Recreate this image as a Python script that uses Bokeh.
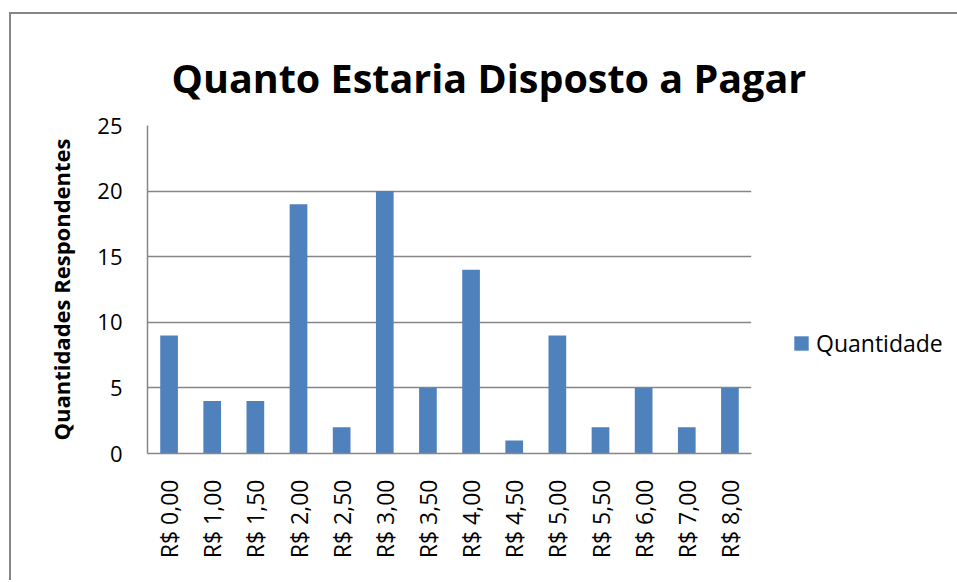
from bokeh.plotting import figure
from bokeh.models import FactorRange, Range1d, Legend, LegendItem, ColumnDataSource, FixedTicker
from bokeh.embed import file_html
from bokeh.resources import INLINE
import math

categories = ["R$ 0,00", "R$ 1,00", "R$ 1,50", "R$ 2,00", "R$ 2,50", "R$ 3,00", "R$ 3,50",
              "R$ 4,00", "R$ 4,50", "R$ 5,00", "R$ 5,50", "R$ 6,00", "R$ 7,00", "R$ 8,00"]
quantidade = [9, 4, 4, 19, 2, 20, 5, 14, 1, 9, 2, 5, 2, 5]
y_ticks = [0, 5, 10, 15, 20, 25]
title_text = "Quanto Estaria Disposto a Pagar"
y_label = "Quantidades Respondentes"
series_name = "Quantidade"

FONT = "Open Sans"
GRID = "#868686"
BAR = "#4F81BD"

p = figure(x_range=FactorRange(*categories), y_range=Range1d(0, 25),
           frame_width=604, frame_height=328,
           min_border_left=136, min_border_top=111, min_border_right=206, min_border_bottom=127,
           output_backend="svg", toolbar_location=None)
p.styles = {"border-left": "2px solid #868686", "border-top": "2px solid #868686",
            "margin-left": "9px", "margin-top": "12px"}

src = ColumnDataSource(dict(x=categories, top=quantidade))
r = p.vbar(x="x", top="top", width=0.41, source=src, fill_color=BAR, line_color=None)

p.title.text = title_text
p.title.text_font = FONT
p.title.text_font_style = "bold"
p.title.text_font_size = "39.5px"
p.title.text_color = "black"
p.title.align = "left"
p.title.vertical_align = "top"
p.title.offset = 24
p.title.standoff = 38

p.outline_line_color = None
p.xgrid.grid_line_color = None
p.ygrid.grid_line_color = GRID
p.ygrid.grid_line_width = 1.5

p.yaxis.ticker = FixedTicker(ticks=y_ticks)
p.yaxis.axis_line_color = GRID
p.yaxis.axis_line_width = 1.5
p.yaxis.major_tick_line_color = None
p.yaxis.minor_tick_line_color = None
p.yaxis.major_label_text_font = FONT
p.yaxis.major_label_text_font_size = "22px"
p.yaxis.major_label_text_color = "black"
p.yaxis.major_label_standoff = 19
p.yaxis.axis_label = y_label
p.yaxis.axis_label_text_font = FONT
p.yaxis.axis_label_text_font_style = "bold"
p.yaxis.axis_label_text_font_size = "22px"
p.yaxis.axis_label_text_color = "black"
p.yaxis.axis_label_standoff = 18

p.xaxis.axis_line_color = GRID
p.xaxis.axis_line_width = 1.5
p.xaxis.major_tick_line_color = None
p.xaxis.minor_tick_line_color = None
p.xaxis.major_label_orientation = math.pi / 2
p.xaxis.major_label_text_font = FONT
p.xaxis.major_label_text_font_size = "23px"
p.xaxis.major_label_text_color = "black"
p.xaxis.major_label_standoff = 20

legend = Legend(items=[LegendItem(label=series_name, renderers=[r])],
                location=(41, 94), border_line_color=None, background_fill_alpha=0,
                label_text_font=FONT, label_text_font_size="23px", label_text_color="black",
                glyph_width=18, glyph_height=18, padding=0, margin=0, label_standoff=6)
p.add_layout(legend, "right")

open("out.html", "w").write(file_html(p, INLINE))
